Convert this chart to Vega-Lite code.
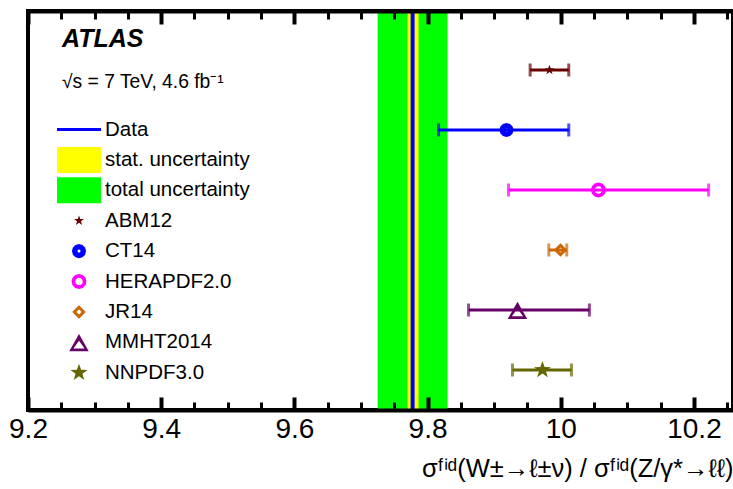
{
  "$schema": "https://vega.github.io/schema/vega-lite/v6.json",
  "width": 705,
  "height": 399,
  "autosize": {"type": "none"},
  "padding": {"left": 28, "top": 11, "right": 0, "bottom": 79},
  "background": "white",
  "config": {
    "view": {"stroke": "black", "strokeWidth": 4},
    "font": "Liberation Sans",
    "legend": {"symbolOpacity": 1, "symbolStrokeWidth": 0}
  },
  "title": {
    "text": "ATLAS",
    "subtitle": "√s = 7 TeV, 4.6 fb⁻¹",
    "anchor": "start",
    "frame": "group",
    "orient": "top",
    "dx": 34,
    "dy": 87,
    "font": "Liberation Sans",
    "fontSize": 25,
    "fontStyle": "italic",
    "fontWeight": "bold",
    "color": "black",
    "subtitleFont": "Liberation Sans",
    "subtitleFontSize": 19.3,
    "subtitleColor": "black",
    "subtitlePadding": 21
  },
  "datasets": {
    "bands": [
      {"series": "total uncertainty", "lo": 9.725, "hi": 9.830},
      {"series": "stat. uncertainty", "lo": 9.770, "hi": 9.7865}
    ],
    "central": [
      {"series": "Data", "value": 9.7775}
    ],
    "pdfs": [
      {"series": "ABM12", "value": 9.983, "lo": 9.954, "hi": 10.012},
      {"series": "CT14", "value": 9.9185, "lo": 9.8165, "hi": 10.012},
      {"series": "HERAPDF2.0", "value": 10.0565, "lo": 9.9215, "hi": 10.222},
      {"series": "JR14", "value": 9.9995, "lo": 9.982, "hi": 10.009},
      {"series": "MMHT2014", "value": 9.935, "lo": 9.8615, "hi": 10.043},
      {"series": "NNPDF3.0", "value": 9.9725, "lo": 9.9275, "hi": 10.016}
    ]
  },
  "resolve": {"axis": {"x": "independent"}},
  "layer": [
    {
      "data": {"name": "bands"},
      "transform": [{"filter": "datum.series == 'total uncertainty'"}],
      "mark": {"type": "rect", "color": "#00ff00"},
      "encoding": {
        "x": {
          "field": "lo", "type": "quantitative",
          "scale": {"domain": [9.2, 10.2586], "nice": false, "zero": false},
          "axis": {
            "orient": "bottom",
            "values": [9.2, 9.4, 9.6, 9.8, 10, 10.2],
            "format": "~g",
            "tickSize": -13,
            "tickWidth": 4,
            "tickColor": "black",
            "domain": true,
            "domainColor": "black",
            "domainWidth": 4,
            "grid": false,
            "labelFont": "Liberation Sans",
            "labelFontSize": 28,
            "labelColor": "black",
            "labelPadding": 18,
            "labelFlush": false,
            "labelOverlap": false,
            "labelBound": false,
            "title": "σᶠⁱᵈ(W±→ℓ±ν) / σᶠⁱᵈ(Z/γ*→ℓℓ)",
            "titleFont": "Liberation Sans",
            "titleFontSize": 25.5,
            "titleFontWeight": "normal",
            "titleColor": "black",
            "titleAnchor": "end",
            "titleAlign": "right",
            "titleBaseline": "middle",
            "titleY": 58,
            "zindex": 1
          }
        },
        "x2": {"field": "hi"}
      }
    },
    {
      "data": {"name": "bands"},
      "transform": [{"filter": "datum.series == 'stat. uncertainty'"}],
      "mark": {"type": "rect", "color": "#ffff00"},
      "encoding": {
        "x": {
          "field": "lo", "type": "quantitative",
          "axis": {
            "orient": "bottom",
            "values": [9.2, 9.25, 9.3, 9.35, 9.4, 9.45, 9.5, 9.55, 9.6, 9.65, 9.7, 9.75, 9.8, 9.85, 9.9, 9.95, 10, 10.05, 10.1, 10.15, 10.2, 10.25],
            "tickSize": -8,
            "tickWidth": 3,
            "tickColor": "black",
            "domain": false,
            "grid": false,
            "labels": false,
            "title": null,
            "zindex": 1
          }
        },
        "x2": {"field": "hi"}
      }
    },
    {
      "data": {"name": "central"},
      "mark": {"type": "rule", "color": "#0000ff", "strokeWidth": 4},
      "encoding": {
        "x": {
          "field": "value", "type": "quantitative",
          "axis": {
            "orient": "top",
            "values": [9.2, 9.4, 9.6, 9.8, 10, 10.2],
            "tickSize": -13,
            "tickWidth": 4,
            "tickColor": "black",
            "domain": true,
            "domainColor": "black",
            "domainWidth": 4,
            "grid": false,
            "labels": false,
            "title": null,
            "zindex": 1
          }
        }
      }
    },
    {
      "data": {"name": "pdfs"},
      "mark": {"type": "errorbar", "ticks": true, "thickness": 3, "size": 13},
      "encoding": {
        "x": {
          "field": "lo", "type": "quantitative",
          "axis": {
            "orient": "top",
            "values": [9.2, 9.25, 9.3, 9.35, 9.4, 9.45, 9.5, 9.55, 9.6, 9.65, 9.7, 9.75, 9.8, 9.85, 9.9, 9.95, 10, 10.05, 10.1, 10.15, 10.2, 10.25],
            "tickSize": -8,
            "tickWidth": 3,
            "tickColor": "black",
            "domain": false,
            "grid": false,
            "labels": false,
            "title": null,
            "zindex": 1
          }
        },
        "x2": {"field": "hi"},
        "y": {
          "field": "series", "type": "nominal",
          "scale": {"type": "point", "domain": ["ABM12", "CT14", "HERAPDF2.0", "JR14", "MMHT2014", "NNPDF3.0"], "range": [59, 359], "padding": 0},
          "axis": null
        },
        "color": {"field": "series", "type": "nominal"}
      }
    },
    {
      "data": {"name": "pdfs"},
      "mark": {"type": "point", "filled": true, "opacity": 1, "size": 900, "strokeWidth": 0},
      "encoding": {
        "x": {"field": "value", "type": "quantitative", "axis": null},
        "y": {"field": "series", "type": "nominal", "axis": null},
        "color": {
          "field": "series", "type": "nominal",
          "scale": {
            "domain": ["Data", "stat. uncertainty", "total uncertainty", "ABM12", "CT14", "HERAPDF2.0", "JR14", "MMHT2014", "NNPDF3.0"],
            "range": ["#0000ff", "#ffff00", "#00ff00", "#660000", "#0000ff", "#ff00ff", "#cc6600", "#660066", "#666600"]
          },
          "legend": {
            "orient": "none",
            "legendX": 36,
            "legendY": 103.5,
            "title": null,
            "padding": 0,
            "rowPadding": 0.4,
            "symbolSize": 900,
            "symbolStrokeWidth": 0,
            "symbolOpacity": 1,
            "labelFont": "Liberation Sans",
            "labelFontSize": 20.5,
            "labelColor": "black",
            "labelOffset": 11,
            "labelLimit": 400
          }
        },
        "shape": {
          "field": "series", "type": "nominal",
          "scale": {
            "domain": ["Data", "stat. uncertainty", "total uncertainty", "ABM12", "CT14", "HERAPDF2.0", "JR14", "MMHT2014", "NNPDF3.0"],
            "range": [
              "M0,-1L0,-1ZM0,1L0,1ZM-1.467,-0.1L1.467,-0.1L1.467,0.1L-1.467,0.1Z",
              "M0,-1L0,-1ZM0,1L0,1ZM-1.467,-0.867L1.467,-0.867L1.467,0.867L-1.467,0.867Z",
              "M0,-1L0,-1ZM0,1L0,1ZM-1.467,-0.867L1.467,-0.867L1.467,0.867L-1.467,0.867Z",
              "M0,-1L0,-1ZM0,1L0,1ZM0,-0.35L0.082,-0.113L0.333,-0.108L0.133,0.043L0.206,0.283L0,0.14L-0.206,0.283L-0.133,0.043L-0.333,-0.108L-0.082,-0.113Z",
              "M0,-1L0,-1ZM0,1L0,1ZM0.47,0L0.407,0.235L0.235,0.407L0,0.47L-0.235,0.407L-0.407,0.235L-0.47,0L-0.407,-0.235L-0.235,-0.407L0,-0.47L0.235,-0.407L0.407,-0.235ZM0.1,0L0.087,-0.05L0.05,-0.087L0,-0.1L-0.05,-0.087L-0.087,-0.05L-0.1,0L-0.087,0.05L-0.05,0.087L0,0.1L0.05,0.087L0.087,0.05Z",
              "M0,-1L0,-1ZM0,1L0,1ZM0.5,0L0.433,0.25L0.25,0.433L0,0.5L-0.25,0.433L-0.433,0.25L-0.5,0L-0.433,-0.25L-0.25,-0.433L0,-0.5L0.25,-0.433L0.433,-0.25ZM0.25,0L0.217,-0.125L0.125,-0.217L0,-0.25L-0.125,-0.217L-0.217,-0.125L-0.25,0L-0.217,0.125L-0.125,0.217L0,0.25L0.125,0.217L0.217,0.125Z",
              "M0,-1L0,-1ZM0,1L0,1ZM0,-0.45L0.45,0L0,0.45L-0.45,0ZM0,-0.17L-0.17,0L0,0.17L0.17,0Z",
              "M0,-1L0,-1ZM0,1L0,1ZM0,-0.55L0.65,0.6L-0.65,0.6ZM0,-0.1L-0.37,0.42L0.37,0.42Z",
              "M0,-1L0,-1ZM0,1L0,1ZM0,-0.6L0.141,-0.194L0.571,-0.185L0.228,0.074L0.353,0.485L0,0.24L-0.353,0.485L-0.228,0.074L-0.571,-0.185L-0.141,-0.194Z"
            ]
          },
          "legend": {
            "orient": "none",
            "legendX": 36,
            "legendY": 103.5,
            "title": null,
            "symbolOpacity": 1
          }
        }
      }
    }
  ]
}
